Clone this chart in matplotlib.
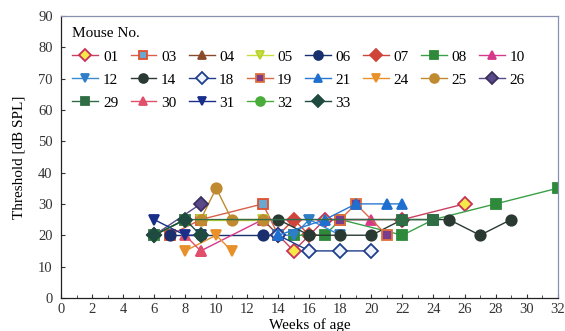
import matplotlib
matplotlib.use("Agg")
import matplotlib.pyplot as plt
from matplotlib.ticker import MultipleLocator

plt.rcParams['font.family'] = ['Liberation Serif', 'DejaVu Serif']

mice = ['01', '03', '04', '05', '06', '07', '08', '10', '12', '14', '18', '19',
        '21', '24', '25', '26', '29', '30', '31', '32', '33']
weeks = {
    '01': [14, 15, 17, 22, 26],
    '03': [7, 9, 13, 14],
    '04': [13, 14],
    '05': [9, 13],
    '06': [7, 9, 13, 14],
    '07': [14, 15, 16],
    '08': [15, 17, 18, 22, 24, 28, 32],
    '10': [9, 13, 18, 20],
    '12': [14, 15, 16, 18],
    '14': [14, 16, 18, 20, 22, 25, 27, 29],
    '18': [14, 16, 18, 20],
    '19': [18, 19, 21],
    '21': [14, 17, 19, 21, 22],
    '24': [8, 10, 11],
    '25': [9, 10, 11, 13],
    '26': [6, 9],
    '29': [6, 8, 22, 24],
    '30': [8, 9],
    '31': [6, 8, 9],
    '32': [6, 8],
    '33': [6, 8, 9],
}
thresholds = {
    '01': [20, 15, 25, 25, 30],
    '03': [20, 25, 30, 20],
    '04': [25, 20],
    '05': [25, 25],
    '06': [20, 20, 20, 20],
    '07': [20, 25, 20],
    '08': [20, 20, 25, 20, 25, 30, 35],
    '10': [15, 25, 25, 25],
    '12': [20, 20, 25, 20],
    '14': [25, 20, 20, 20, 25, 25, 20, 25],
    '18': [20, 15, 15, 15],
    '19': [25, 30, 20],
    '21': [20, 25, 30, 30, 30],
    '24': [15, 20, 15],
    '25': [25, 35, 25, 25],
    '26': [20, 30],
    '29': [20, 25, 25, 25],
    '30': [20, 15],
    '31': [25, 20, 20],
    '32': [20, 25],
    '33': [20, 25, 20],
}

x_ticks = list(range(0, 33, 2))
y_ticks = list(range(0, 91, 10))

styles = {
    '01': dict(marker='D', color='#c8405e', mfc='#f7e84a', mec='#c8305a'),
    '03': dict(marker='s', color='#d8604a', mfc='#6aa8d0', mec='#e0502e'),
    '04': dict(marker='^', color='#8a4a2a', mfc='#8a4a2a', mec='#8a4a2a'),
    '05': dict(marker='v', color='#c8dc3c', mfc='#c8e03c', mec='#b8d030'),
    '06': dict(marker='o', color='#1a2f6e', mfc='#1a2f6e', mec='#1a2f6e'),
    '07': dict(marker='D', color='#d0453a', mfc='#d0453a', mec='#d0453a'),
    '08': dict(marker='s', color='#3aa048', mfc='#2e8a3a', mec='#2e8a3a'),
    '10': dict(marker='^', color='#d6388a', mfc='#d6388a', mec='#d6388a'),
    '12': dict(marker='v', color='#3a8ad0', mfc='#2f7fc8', mec='#2f7fc8'),
    '14': dict(marker='o', color='#2a3a33', mfc='#2a3a33', mec='#2a3a33'),
    '18': dict(marker='D', color='#1f3f8a', mfc='#f0f4ff', mec='#1f3f8a'),
    '19': dict(marker='s', color='#d86a4a', mfc='#7a3c8c', mec='#e0703a'),
    '21': dict(marker='^', color='#2a78d0', mfc='#1f6fd0', mec='#1f6fd0'),
    '24': dict(marker='v', color='#e8902a', mfc='#e8902a', mec='#e8902a'),
    '25': dict(marker='o', color='#c08a30', mfc='#c08a30', mec='#c08a30'),
    '26': dict(marker='D', color='#5a4a8a', mfc='#5a4a8a', mec='#3a3060'),
    '29': dict(marker='s', color='#2f6e45', mfc='#2f6e45', mec='#2f6e45'),
    '30': dict(marker='^', color='#e0506a', mfc='#e0506a', mec='#e0506a'),
    '31': dict(marker='v', color='#1a2f8a', mfc='#1a2f8a', mec='#1a2f8a'),
    '32': dict(marker='o', color='#4aac3a', mfc='#4aac3a', mec='#4aac3a'),
    '33': dict(marker='D', color='#1f4a40', mfc='#1f4a40', mec='#1f4a40'),
}

fig = plt.figure(figsize=(5.65, 3.31), dpi=100)
ax = fig.add_axes([0.108, 0.1, 0.879, 0.852])

handles = {}
for m in mice:
    st = styles[m]
    line, = ax.plot(weeks[m], thresholds[m], marker=st['marker'], color=st['color'],
                    mfc=st['mfc'], mec=st['mec'], ms=7.5, mew=1.3, lw=1.0, label=m)
    handles[m] = line

ax.set_xlim(0, 32)
ax.set_ylim(0, 90)
ax.set_xticks(x_ticks)
ax.set_yticks(y_ticks)
ax.xaxis.set_minor_locator(MultipleLocator(1))
ax.tick_params(axis='both', which='both', direction='in', labelsize=10.5,
               colors='#333333', length=3)
ax.tick_params(axis='both', which='minor', length=2)
ax.tick_params(axis='x', pad=4)
ax.tick_params(axis='y', pad=6)
ax.set_xlabel('Weeks of age', fontsize=11, labelpad=1)
ax.set_ylabel('Threshold [dB SPL]', fontsize=11, labelpad=9)
for s in ['left', 'bottom']:
    ax.spines[s].set_color('#222222')
    ax.spines[s].set_linewidth(0.9)
for s in ['top', 'right']:
    ax.spines[s].set_color('#8890b0')
    ax.spines[s].set_linewidth(0.9)

# reorder so the legend reads row by row (8 columns)
ncol = 8
order = []
for c in range(ncol):
    for r in range(3):
        i = r * ncol + c
        if i < len(mice):
            order.append(mice[i])

leg = ax.legend([handles[m] for m in order], order, ncol=ncol, loc='upper left',
                bbox_to_anchor=(0.0, 1.0),
                title='Mouse No.', fontsize=11, title_fontsize=11,
                frameon=False, handlelength=1.7, handletextpad=0.3,
                columnspacing=0.8, labelspacing=0.62, borderaxespad=0.35,
                markerscale=0.85)
leg._legend_box.align = 'left'

fig.savefig('out.png', dpi=100)
